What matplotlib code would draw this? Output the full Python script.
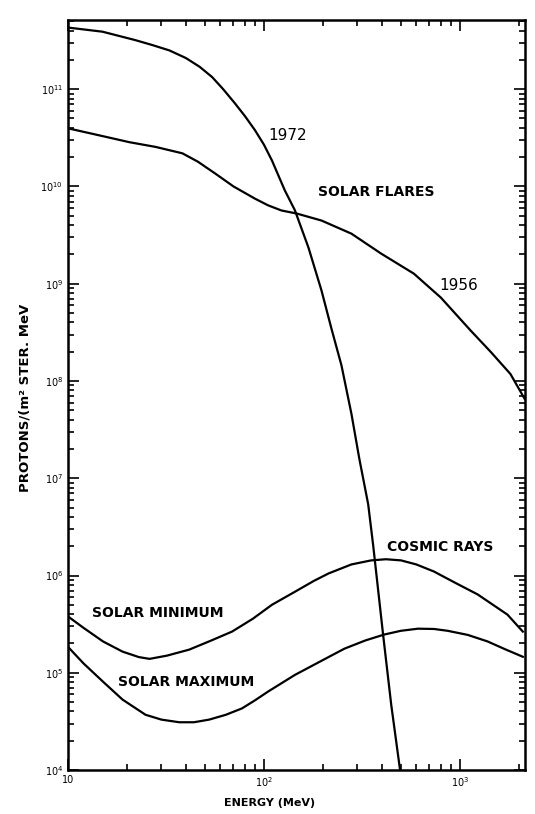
import matplotlib
matplotlib.use("Agg")
import matplotlib.pyplot as plt
from matplotlib.ticker import LogLocator, NullFormatter

# Solar flare proton spectra
flare_1972_e = [10, 15, 22, 27, 33, 40, 47, 54.5, 62, 71, 80, 90, 100, 110, 128, 144, 169, 197, 221, 249, 280,
                307, 341, 362, 406, 447, 496]
flare_1972_f = [4.3e11, 3.9e11, 3.2e11, 2.84e11, 2.5e11, 2.09e11, 1.7e11, 1.33e11, 1.0e11, 7.2e10, 5.3e10,
                3.8e10, 2.7e10, 1.85e10, 9.1e9, 5.7e9, 2.35e9, 8.5e8, 3.5e8, 1.45e8, 4.6e7,
                1.6e7, 5.4e6, 2.0e6, 2.5e5, 4.7e4, 1.0e4]

flare_1956_e = [10, 14, 20.6, 28, 38.4, 46, 56.4, 70, 90, 105, 123, 147, 197, 280, 397, 583, 801, 1137,
                1437, 1815, 2150]
flare_1956_f = [3.96e10, 3.4e10, 2.85e10, 2.55e10, 2.19e10, 1.8e10, 1.36e10, 1.0e10, 7.5e9, 6.4e9,
                5.66e9, 5.27e9, 4.46e9, 3.27e9, 2.04e9, 1.27e9, 7.2e8, 3.3e8, 2.0e8, 1.18e8, 6.5e7]

# Galactic cosmic rays
smin_e = [10, 12, 15.1, 19, 23, 26.1, 32, 41.6, 54, 68.8, 88, 110, 144, 180, 214, 280, 353, 420, 502,
          600, 738, 950, 1233, 1500, 1753, 2100]
smin_f = [3.8e5, 2.9e5, 2.1e5, 1.65e5, 1.45e5, 1.39e5, 1.5e5, 1.73e5, 2.15e5, 2.65e5, 3.6e5, 5.0e5,
          6.8e5, 8.8e5, 1.05e6, 1.3e6, 1.43e6, 1.47e6, 1.43e6, 1.3e6, 1.1e6, 8.4e5, 6.4e5, 4.9e5,
          3.96e5, 2.65e5]

smax_e = [10, 12, 15.1, 19, 24.9, 30, 37.0, 44, 52.6, 64, 77.3, 90, 105, 144, 200, 258, 330, 411, 500,
          612, 740, 869, 1100, 1387, 1700, 2100]
smax_f = [1.85e5, 1.25e5, 8.1e4, 5.3e4, 3.7e4, 3.3e4, 3.1e4, 3.1e4, 3.3e4, 3.7e4, 4.3e4, 5.2e4, 6.4e4,
          9.5e4, 1.35e5, 1.77e5, 2.15e5, 2.47e5, 2.7e5, 2.84e5, 2.82e5, 2.7e5, 2.45e5, 2.1e5,
          1.75e5, 1.46e5]

fig = plt.figure(figsize=(5.35, 8.14), dpi=100)
ax = fig.add_axes([0.127, 0.054, 0.854, 0.921])

for e, f in [(flare_1972_e, flare_1972_f), (flare_1956_e, flare_1956_f),
             (smin_e, smin_f), (smax_e, smax_f)]:
    ax.plot(e, f, color="black", lw=1.6)

ax.set_xscale("log")
ax.set_yscale("log")
ax.set_xlim(10, 2150)
ax.set_ylim(1e4, 5.1e11)

ax.set_xticks([10, 100, 1000])
ax.set_xticklabels(["10", "$10^2$", "$10^3$"])
yt = [10.0 ** n for n in range(4, 12)]
ax.set_yticks(yt)
ax.set_yticklabels(["$10^{%d}$" % n for n in range(4, 12)])
ax.xaxis.set_minor_locator(LogLocator(base=10, subs=range(2, 10), numticks=20))
ax.yaxis.set_minor_locator(LogLocator(base=10, subs=range(2, 10), numticks=20))
ax.xaxis.set_minor_formatter(NullFormatter())
ax.yaxis.set_minor_formatter(NullFormatter())

ax.tick_params(which="both", direction="in", top=True, right=True, width=1.2)
ax.tick_params(which="major", length=8, labelsize=7)
ax.tick_params(which="minor", length=4)
for s in ax.spines.values():
    s.set_linewidth(1.8)

fig.text(270 / 535, 1 - 803 / 814, "ENERGY (MeV)", fontsize=8, fontweight="bold",
         ha="center", va="center")
fig.text(25 / 535, 1 - 398 / 814, "PROTONS/(m² STER. MeV", fontsize=9.5, fontweight="bold",
         ha="center", va="center", rotation=90)

txt = dict(fontsize=10, fontweight="bold", ha="center", va="center", transform=ax.transAxes)

def axpos(px, py):
    # figure pixel position -> axes fraction
    return ((px - 68) / (525 - 68), (770 - py) / (770 - 20))

ax.text(*axpos(376, 192), "SOLAR FLARES", **txt)
ax.text(*axpos(440, 547), "COSMIC RAYS", **txt)
ax.text(*axpos(158, 613), "SOLAR MINIMUM", **txt)
ax.text(*axpos(186, 682), "SOLAR MAXIMUM", **txt)
ax.text(*axpos(288, 135), "1972", fontsize=11, ha="center", va="center",
        transform=ax.transAxes, family="DejaVu Sans")
ax.text(*axpos(459, 285), "1956", fontsize=11, ha="center", va="center",
        transform=ax.transAxes, family="DejaVu Sans")

fig.savefig("out.png", dpi=100)
